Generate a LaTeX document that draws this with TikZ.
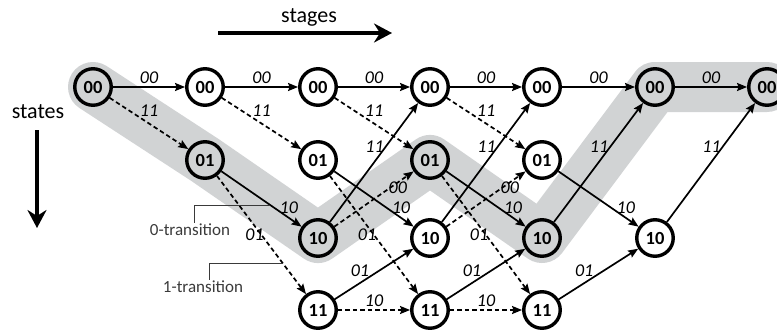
\documentclass[tikz,border=0pt]{standalone}
\usepackage{fontspec}
\setmainfont{Carlito}
\usetikzlibrary{arrows.meta, backgrounds}
\definecolor{pathgray}{HTML}{D1D3D4}
\definecolor{notegray}{HTML}{3A3A3A}

\begin{document}
\begin{tikzpicture}[
  x=1pt, y=-1pt,
  stnode/.style={
    circle, draw=black, line width=3.4pt, fill=white,
    minimum size=36.5pt, inner sep=0pt,
    font=\fontsize{18.5}{18.5}\selectfont\bfseries
  },
  stpath/.style={stnode, fill=pathgray},
  zeroarr/.style={-{Stealth[length=10pt, width=8pt, inset=1.5pt]}, line width=1.7pt},
  onearr/.style={zeroarr, dash pattern=on 4.5pt off 3pt},
  lbl/.style={font=\fontsize{18}{18}\selectfont\itshape, inner sep=1pt},
  note/.style={font=\fontsize{17}{17}\selectfont, text=notegray, inner sep=1pt},
  callout/.style={draw=notegray, line width=1pt},
  bigarr/.style={-{Stealth[length=18pt, width=19pt, inset=6pt]}, line width=3.8pt}
]
  \useasboundingbox (0,0) rectangle (777,332);

  % Axes
  \node[font=\fontsize{22}{22}\selectfont] (stages) at (309,17) {stages};
  \coordinate (stgA) at (218,33);
  \coordinate (stgB) at (392,33);
  \draw[bigarr] (stgA) -- (stgB);
  \node[font=\fontsize{22}{22}\selectfont] (states) at (38,112) {states};
  \coordinate (sttA) at (37,130);
  \coordinate (sttB) at (37,228);
  \draw[bigarr] (sttA) -- (sttB);

  % Trellis states
  \node[stpath] (s00t0) at (93,87) {00};

  \node[stnode] (s00t1) at (205,87) {00};
  \node[stpath] (s01t1) at (205,160) {01};

  \node[stnode] (s00t2) at (318,87) {00};
  \node[stnode] (s01t2) at (318,160) {01};
  \node[stpath] (s10t2) at (318,238) {10};
  \node[stnode] (s11t2) at (318,310) {11};

  \node[stnode] (s00t3) at (430,87) {00};
  \node[stpath] (s01t3) at (430,160) {01};
  \node[stnode] (s10t3) at (430,238) {10};
  \node[stnode] (s11t3) at (430,310) {11};

  \node[stnode] (s00t4) at (542,87) {00};
  \node[stnode] (s01t4) at (542,160) {01};
  \node[stpath] (s10t4) at (542,238) {10};
  \node[stnode] (s11t4) at (542,310) {11};

  \node[stpath] (s00t5) at (655,87) {00};
  \node[stnode] (s10t5) at (655,238) {10};

  \node[stpath] (s00t6) at (767,87) {00};

  % Survivor path
  \begin{scope}[on background layer]
    \draw[pathgray, line width=50pt, line cap=round, line join=round]
      (s00t0.center) -- (s01t1.center) -- (s10t2.center) -- (s01t3.center)
      -- (s10t4.center) -- (s00t5.center) -- (s00t6.center);
  \end{scope}

  % Stage 0 -> 1
  \draw[zeroarr] (s00t0) -- (s00t1) node[midway, above=2pt, lbl] {00};
  \draw[onearr] (s00t0) -- (s01t1) node[midway, above=5pt, lbl] {11};

  % Stage 1 -> 2
  \draw[zeroarr] (s00t1) -- (s00t2) node[midway, above=2pt, lbl] {00};
  \draw[onearr] (s00t1) -- (s01t2) node[midway, above=5pt, lbl] {11};
  \draw[zeroarr] (s01t1) -- (s10t2) coordinate[pos=0.61] (zerotip)
    node[pos=0.84, above=2.5pt, lbl] {10};
  \draw[onearr] (s01t1) -- (s11t2) coordinate[pos=0.74] (onetip)
    node[midway, left=-4pt, lbl] {01};

  % Stage 2 -> 3
  \draw[zeroarr] (s00t2) -- (s00t3) node[midway, above=2pt, lbl] {00};
  \draw[onearr] (s00t2) -- (s01t3) node[midway, above=5pt, lbl] {11};
  \draw[zeroarr] (s01t2) -- (s10t3) node[pos=0.84, above=2.5pt, lbl] {10};
  \draw[onearr] (s01t2) -- (s11t3) node[midway, left=-4pt, lbl] {01};
  \draw[zeroarr] (s10t2) -- (s00t3) node[pos=0.63, left=0pt, lbl] {11};
  \draw[onearr] (s10t2) -- (s01t3) node[pos=0.7, right=-3pt, lbl] {00};
  \draw[zeroarr] (s11t2) -- (s10t3) node[pos=0.32, above=5pt, lbl] {01};
  \draw[onearr] (s11t2) -- (s11t3) node[midway, above=1.5pt, lbl] {10};

  % Stage 3 -> 4
  \draw[zeroarr] (s00t3) -- (s00t4) node[midway, above=2pt, lbl] {00};
  \draw[onearr] (s00t3) -- (s01t4) node[midway, above=5pt, lbl] {11};
  \draw[zeroarr] (s01t3) -- (s10t4) node[pos=0.84, above=2.5pt, lbl] {10};
  \draw[onearr] (s01t3) -- (s11t4) node[midway, left=-4pt, lbl] {01};
  \draw[zeroarr] (s10t3) -- (s00t4) node[pos=0.63, left=0pt, lbl] {11};
  \draw[onearr] (s10t3) -- (s01t4) node[pos=0.7, right=-3pt, lbl] {00};
  \draw[zeroarr] (s11t3) -- (s10t4) node[pos=0.32, above=5pt, lbl] {01};
  \draw[onearr] (s11t3) -- (s11t4) node[midway, above=1.5pt, lbl] {10};

  % Stage 4 -> 5
  \draw[zeroarr] (s00t4) -- (s00t5) node[midway, above=2pt, lbl] {00};
  \draw[zeroarr] (s01t4) -- (s10t5) node[pos=0.84, above=2.5pt, lbl] {10};
  \draw[zeroarr] (s10t4) -- (s00t5) node[pos=0.63, left=0pt, lbl] {11};
  \draw[zeroarr] (s11t4) -- (s10t5) node[pos=0.32, above=5pt, lbl] {01};

  % Stage 5 -> 6
  \draw[zeroarr] (s00t5) -- (s00t6) node[midway, above=2pt, lbl] {00};
  \draw[zeroarr] (s10t5) -- (s00t6) node[pos=0.63, left=0pt, lbl] {11};

  % Legend
  \node[note] (zeronote) at (190,230) {0-transition};
  \node[note] (onenote) at (203,287) {1-transition};
  \draw[callout] ([xshift=4pt]zeronote.north) |- (zerotip);
  \draw[callout] ([xshift=6pt]onenote.north) |- (onetip);
\end{tikzpicture}
\end{document}
